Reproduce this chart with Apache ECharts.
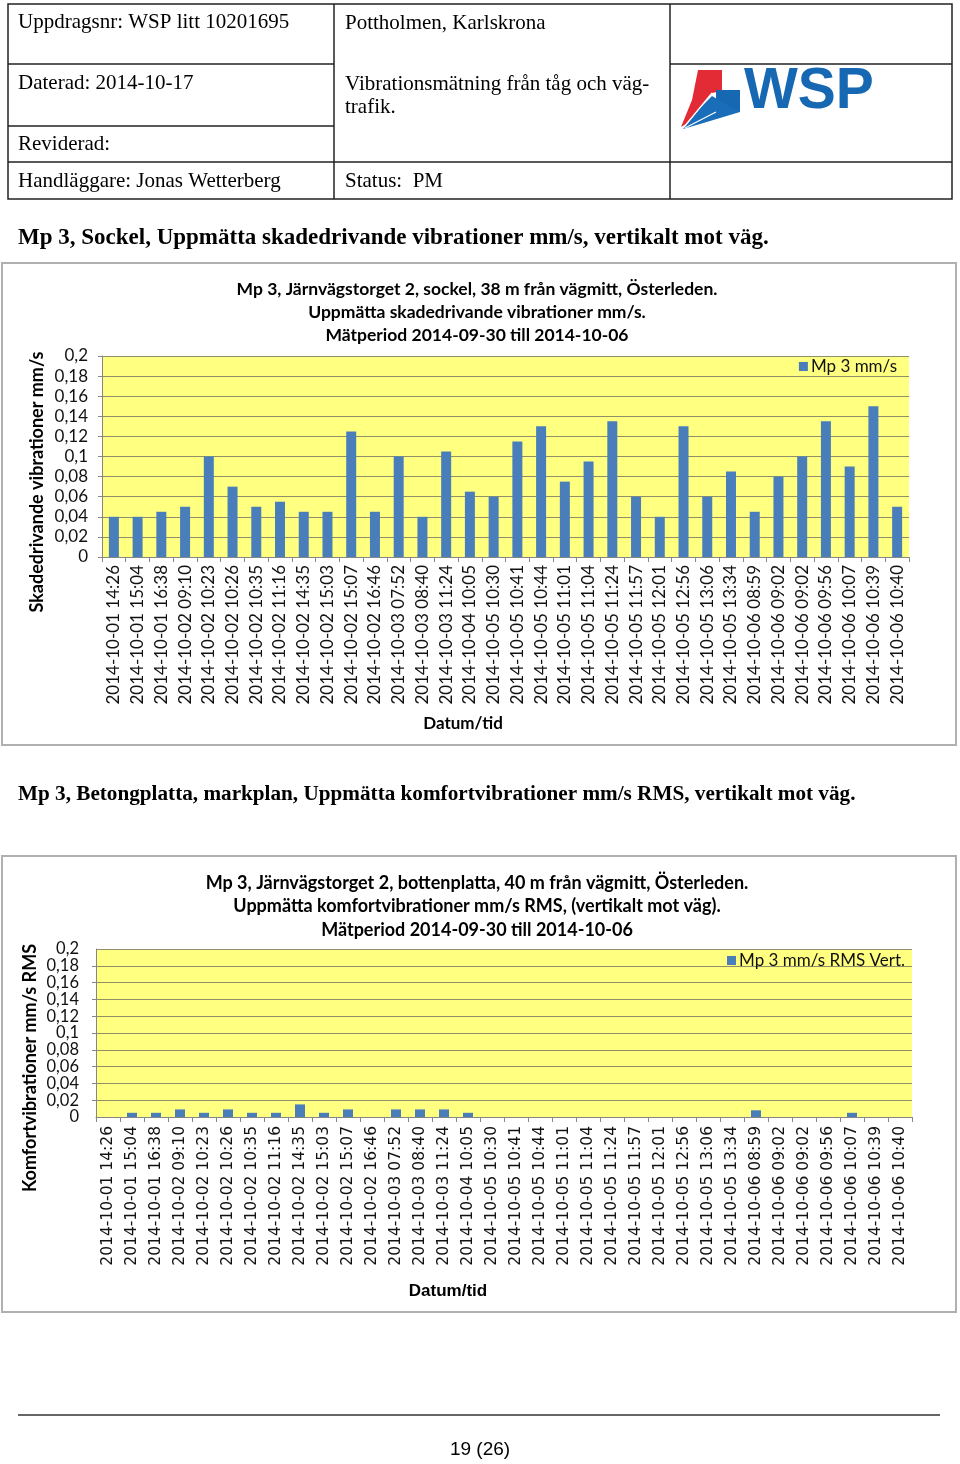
<!DOCTYPE html>
<html>
<head>
<meta charset="utf-8">
<script src="https://cdn.jsdelivr.net/npm/echarts@6/dist/echarts.min.js"></script>
<style>
html,body{margin:0;padding:0;background:#fff;}
#c{width:960px;height:1464px;}
</style>
</head>
<body>
<div id="c"></div>
<script>
const categories = ["2014-10-01 14:26","2014-10-01 15:04","2014-10-01 16:38","2014-10-02 09:10","2014-10-02 10:23","2014-10-02 10:26","2014-10-02 10:35","2014-10-02 11:16","2014-10-02 14:35","2014-10-02 15:03","2014-10-02 15:07","2014-10-02 16:46","2014-10-03 07:52","2014-10-03 08:40","2014-10-03 11:24","2014-10-04 10:05","2014-10-05 10:30","2014-10-05 10:41","2014-10-05 10:44","2014-10-05 11:01","2014-10-05 11:04","2014-10-05 11:24","2014-10-05 11:57","2014-10-05 12:01","2014-10-05 12:56","2014-10-05 13:06","2014-10-05 13:34","2014-10-06 08:59","2014-10-06 09:02","2014-10-06 09:02","2014-10-06 09:56","2014-10-06 10:07","2014-10-06 10:39","2014-10-06 10:40"];
const sockelValues = [0.04,0.04,0.045,0.05,0.1,0.07,0.05,0.055,0.045,0.045,0.125,0.045,0.1,0.04,0.105,0.065,0.06,0.115,0.13,0.075,0.095,0.135,0.06,0.04,0.13,0.06,0.085,0.045,0.08,0.1,0.135,0.09,0.15,0.05];
const rmsValues = [0,0.005,0.005,0.009,0.005,0.009,0.005,0.005,0.015,0.005,0.009,0,0.009,0.009,0.009,0.005,0,0,0,0,0,0,0,0,0,0,0,0.008,0,0,0,0.005,0,0];
const seriesNames = ["Mp 3 mm/s","Mp 3 mm/s RMS Vert."];
const chartTitle1 = ["Mp 3, Järnvägstorget 2, sockel, 38 m från vägmitt, Österleden.","Uppmätta skadedrivande vibrationer mm/s.","Mätperiod 2014-09-30 till 2014-10-06"];
const chartTitle2 = ["Mp 3, Järnvägstorget 2, bottenplatta, 40 m från vägmitt, Österleden.","Uppmätta komfortvibrationer mm/s RMS, (vertikalt mot väg).","Mätperiod 2014-09-30 till 2014-10-06"];
const yTitles = ["Skadedrivande vibrationer mm/s","Komfortvibrationer mm/s RMS"];
const xTitle = "Datum/tid";

const BAR = '#4a7ebb', PLOT = '#ffff80', GRIDC = '#8f8f6a', AXC = '#868686';
const CAL = "Lato, 'Open Sans', sans-serif";
const SERIF = "'Liberation Serif', 'DejaVu Serif', serif";
const fmt = v => String(+v.toFixed(2)).replace('.', ',');

function yAxis(gi, margin, size, lh, showEnds){
  return {type:'value', gridIndex:gi, min:0, max:0.2, interval:0.02,
    axisLine:{show:true, lineStyle:{color:AXC}},
    axisTick:{show:true, length:4, lineStyle:{color:AXC}},
    splitLine:{show:true, lineStyle:{color:GRIDC, width:1.2}},
    axisLabel:{formatter:fmt, color:'#111', fontFamily:CAL, fontSize:size, lineHeight:lh, margin:margin, hideOverlap:false, showMinLabel:showEnds, showMaxLabel:showEnds}};
}
function xAxis(gi, font, size, margin){
  return {type:'category', gridIndex:gi, data:categories, boundaryGap:true,
    axisLine:{show:true, lineStyle:{color:AXC}},
    axisTick:{show:true, length:5, alignWithLabel:false, interval:0, lineStyle:{color:AXC}},
    axisLabel:{interval:0, rotate:90, color:'#111', fontFamily:font, fontSize:size, margin:margin, hideOverlap:false},
    splitLine:{show:false}};
}
function txt(x,y,text,opt){
  return Object.assign({type:'text', x:x, y:y, silent:true, style:Object.assign({text:text, fill:'#000', textVerticalAlign:'middle'}, opt||{})});
}
function line(x1,y1,x2,y2,col,w){
  return {type:'line', silent:true, shape:{x1:x1,y1:y1,x2:x2,y2:y2}, style:{stroke:col||'#222', lineWidth:w||1.5}};
}

const hdr = {fontFamily:SERIF, fontSize:21};
const ttl1 = {fontFamily:CAL,fontWeight:'bold',fontSize:17.5,textAlign:'center'};
const ttl2 = {fontFamily:CAL,fontWeight:'bold',fontSize:18,textAlign:'center'};
const graphics = [
  // header table
  {type:'rect', silent:true, shape:{x:8,y:4,width:944,height:195}, style:{fill:'none', stroke:'#222', lineWidth:1.5}},
  line(334,4,334,199), line(670,4,670,199),
  line(8,64,334,64), line(670,64,952,64), line(8,126,334,126), line(8,162,952,162),
  txt(18,22,'Uppdragsnr: WSP litt 10201695',hdr),
  txt(18,83,'Daterad: 2014-10-17',hdr),
  txt(18,144,'Reviderad:',hdr),
  txt(18,181,'Handläggare: Jonas Wetterberg',hdr),
  txt(345,23,'Pottholmen, Karlskrona',hdr),
  txt(345,84,'Vibrationsmätning från tåg och väg-',hdr),
  txt(345,107,'trafik.',hdr),
  txt(345,181,'Status:  PM',hdr),
  // logo
  {type:'polygon', silent:true, shape:{points:[[698,70],[722,70],[722,91],[712,93],[686,124],[681,127],[692,100]]}, style:{fill:'#e32b35'}},
  {type:'polygon', silent:true, shape:{points:[[716,90],[740,90],[740,112],[716,112]]}, style:{fill:'#1768b3'}},
  {type:'polygon', silent:true, shape:{points:[[712,96],[740,112],[700,124],[683,129],[700,108]]}, style:{fill:'#1a6db8'}},
  line(712,93,684,127,'#ffffff',1.2),
  line(716,112,685,128,'#ffffff',1.2),
  txt(744,92,'WSP',{fontFamily:"'Liberation Sans', Arial, sans-serif", fontWeight:'bold', fontSize:57, fill:'#1768b3'}),
  // section headings
  txt(18,238,'Mp 3, Sockel, Uppmätta skadedrivande vibrationer mm/s, vertikalt mot väg.',{fontFamily:SERIF, fontWeight:'bold', fontSize:23}),
  txt(18,795,'Mp 3, Betongplatta, markplan, Uppmätta komfortvibrationer mm/s RMS, vertikalt mot väg.',{fontFamily:SERIF, fontWeight:'bold', fontSize:21.2}),
  // chart boxes
  {type:'rect', silent:true, shape:{x:2,y:263,width:954,height:482}, style:{fill:'none', stroke:'#b0b0b0', lineWidth:2}},
  {type:'rect', silent:true, shape:{x:2,y:856,width:954,height:456}, style:{fill:'none', stroke:'#b0b0b0', lineWidth:2}},
  // chart titles
  txt(477,289,chartTitle1[0],ttl1),
  txt(477,312,chartTitle1[1],ttl1),
  txt(477,335,chartTitle1[2],ttl1),
  txt(477,883,chartTitle2[0],ttl2),
  txt(477,906,chartTitle2[1],ttl2),
  txt(477,930,chartTitle2[2],ttl2),
  // axis titles
  {type:'text', silent:true, x:37, y:482, rotation:Math.PI/2, style:{text:yTitles[0], fontFamily:CAL, fontWeight:'bold', fontSize:18, fill:'#000', textAlign:'center', textVerticalAlign:'middle'}},
  {type:'text', silent:true, x:30, y:1068, rotation:Math.PI/2, style:{text:yTitles[1], fontFamily:CAL, fontWeight:'bold', fontSize:18, fill:'#000', textAlign:'center', textVerticalAlign:'middle'}},
  txt(463,724,xTitle,{fontFamily:CAL,fontWeight:'bold',fontSize:17,textAlign:'center'}),
  txt(448,1291,xTitle,{fontFamily:"'Liberation Sans Narrow', 'Liberation Sans', sans-serif",fontWeight:'bold',fontSize:17,textAlign:'center'}),
  // footer
  line(18,1415,940,1415,'#333',1.5),
  txt(480,1450,'19 (26)',{fontFamily:"'Liberation Sans Narrow', 'Liberation Sans', sans-serif",fontSize:19,textAlign:'center'})
];

// extra axis on grid 2 carrying only the end labels (0 and 0,2), which the dense axis would otherwise drop
const endAxis = {type:'value', gridIndex:1, min:0, max:0.2, interval:0.2, position:'left',
  axisLine:{show:false}, axisTick:{show:false}, splitLine:{show:false},
  axisLabel:{formatter:fmt, color:'#111', fontFamily:CAL, fontSize:16.5, margin:17, hideOverlap:false, showMinLabel:true, showMaxLabel:true}};

const chart = echarts.init(document.getElementById('c'), null, {renderer:'canvas', width:960, height:1464});
chart.setOption({
  backgroundColor:'#ffffff',
  animation:false,
  grid:[
    {left:102, top:356, width:807, height:201, show:true, backgroundColor:PLOT, borderWidth:0, outerBoundsMode:'none', containLabel:false},
    {left:96, top:949, width:816, height:168, show:true, backgroundColor:PLOT, borderWidth:0, outerBoundsMode:'none', containLabel:false}
  ],
  xAxis:[ xAxis(0, CAL, 17, 8), xAxis(1, "'DejaVu Sans', sans-serif", 15.5, 9) ],
  yAxis:[ yAxis(0, 14, 17, 18, true), yAxis(1, 17, 16.5, 12, false), endAxis ],
  legend:[
    {data:[seriesNames[0]], right:58, top:353, itemWidth:9, itemHeight:9, itemGap:4, icon:'rect', textStyle:{fontFamily:CAL, fontSize:17, color:'#111', padding:[0,0,0,-2]}},
    {data:[seriesNames[1]], right:50, top:947, itemWidth:9, itemHeight:9, itemGap:4, icon:'rect', textStyle:{fontFamily:CAL, fontSize:17, color:'#111', padding:[0,0,0,-2]}}
  ],
  series:[
    {name:seriesNames[0], type:'bar', xAxisIndex:0, yAxisIndex:0, data:sockelValues, barWidth:10, itemStyle:{color:BAR}},
    {name:seriesNames[1], type:'bar', xAxisIndex:1, yAxisIndex:1, data:rmsValues, barWidth:10, itemStyle:{color:BAR}}
  ],
  graphic:graphics
});
</script>
</body>
</html>
